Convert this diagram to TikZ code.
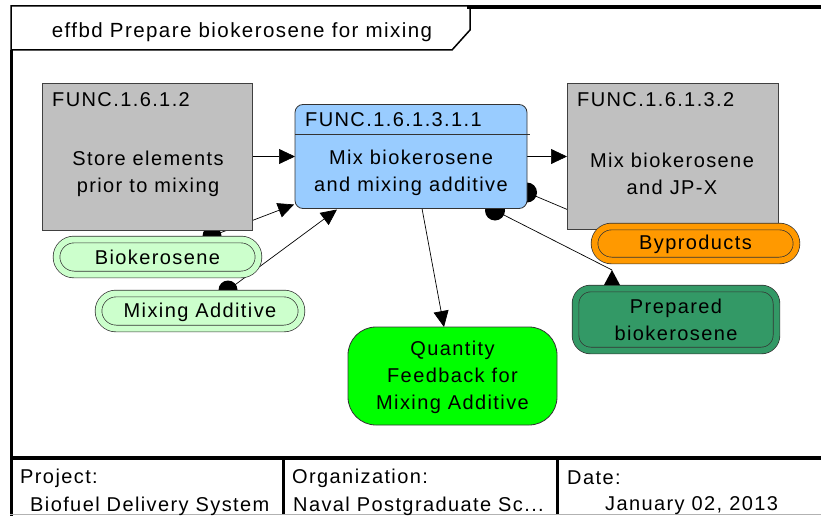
\documentclass[tikz,border=0pt]{standalone}
\usepackage{fontspec}
\setmainfont{Liberation Sans}[LetterSpace=7]
\usetikzlibrary{arrows.meta,shapes.misc,calc}
\definecolor{fgray}{HTML}{C0C0C0}
\definecolor{fblue}{HTML}{99CCFF}
\definecolor{lgreen}{HTML}{CCFFCC}
\definecolor{forange}{HTML}{FF9900}
\definecolor{dgreen}{HTML}{339966}
\definecolor{bgreen}{HTML}{00FF00}
\pgfdeclarelayer{back}
\pgfdeclarelayer{bg}
\pgfsetlayers{back,bg,main}
\tikzset{
  nodefont/.style={font=\fontsize{20}{27}\selectfont},
  funcbox/.style={draw=black!75, line width=0.8pt, fill=fgray, outer sep=0pt, inner sep=0pt},
  bluebox/.style={draw=black!80, line width=0.8pt, fill=fblue, rounded corners=8pt, outer sep=0pt, inner sep=0pt},
  pill/.style={rounded rectangle, draw=black!80, line width=0.7pt, double distance=6pt, outer sep=0pt, inner sep=0pt},
  rbox/.style={draw=black!80, line width=0.7pt, double distance=6pt, outer sep=0pt, inner sep=0pt, rounded corners=15pt},
  txt/.style={nodefont, align=center, inner sep=0pt},
  conn/.style={line width=0.7pt, -{Triangle[length=16pt,width=15pt]}},
  plainconn/.style={line width=0.7pt},
  dotr/.style={fill=black},
  tbl/.style={font=\fontsize{20}{26}\selectfont, anchor=west, inner sep=0pt},
}
\begin{document}
\begin{tikzpicture}[x=1pt,y=-1pt]
\useasboundingbox (0,0) rectangle (821,527);
\begin{pgfonlayer}{back}
\fill[white] (0,0) rectangle (821,527);
\end{pgfonlayer}

% frame and title tab
\draw[line width=1.5pt] (11,6) -- (470,6) -- (470,30) -- (452,50) -- (11,50) -- cycle;
\node[font=\fontsize{20.5}{24}\selectfont, inner sep=0pt] (title) at (242,32) {effbd Prepare biokerosene for mixing};
\draw[line width=4pt] (467,7) -- (821,7);
\draw[line width=3.5pt] (11.5,50) -- (11.5,516);
\draw[line width=4pt] (10,458) -- (821,458);
\draw[line width=3pt] (283,458) -- (283,515);
\draw[line width=3pt] (557,458) -- (557,515);
\draw[black!30, line width=1pt] (10,514.5) -- (821,514.5);

% table
\node[tbl] (proj) at (20,478) {Project:};
\node[tbl] (projv) at (30,506) {Biofuel Delivery System};
\node[tbl] (org) at (292,478) {Organization:};
\node[tbl] (orgv) at (293,506) {Naval Postgraduate Sc...};
\node[tbl] (date) at (567,478) {Date:};
\node[tbl] (datev) at (605,506) {January 02, 2013};

% function boxes
\node[funcbox, minimum width=210pt, minimum height=147pt] (store) at (147,156.5) {};
\node[txt, anchor=west] (storeid) at (52,100) {FUNC.1.6.1.2};
\node[txt] (storetxt) at (148,174) {Store elements\\prior to mixing};

\node[bluebox, minimum width=232pt, minimum height=104pt] (blue) at (411,156.5) {};
\draw[line width=0.8pt, black!80] ($(blue.north west)+(0,30)$) -- ($(blue.north east)+(3,30)$);
\node[txt, anchor=west] (blueid) at (305,120) {FUNC.1.6.1.3.1.1};
\node[txt] (bluetxt) at (411,173) {Mix biokerosene\\and mixing additive};

\node[funcbox, minimum width=211pt, minimum height=146pt] (jp) at (672.5,156.5) {};
\node[txt, anchor=west] (jpid) at (577,100) {FUNC.1.6.1.3.2};
\node[txt] (jptxt) at (672,174) {Mix biokerosene\\and JP-X};

% items
\node[pill, fill=lgreen, double=lgreen, minimum width=202pt, minimum height=35pt] (bio) at (157.5,257) {};
\node[txt] (biotxt) at (157.5,257) {Biokerosene};
\node[pill, fill=lgreen, double=lgreen, minimum width=203pt, minimum height=35pt] (add) at (200,311) {};
\node[txt] (addtxt) at (200,312) {Mixing Additive};
\node[pill, fill=forange, double=forange, minimum width=202pt, minimum height=34pt] (byp) at (695.5,243.5) {};
\node[txt] (byptxt) at (695.5,244) {Byproducts};
\node[rbox, fill=dgreen, double=dgreen, minimum width=201pt, minimum height=62pt] (prep) at (676,319.5) {};
\node[txt] (preptxt) at (676,320) {Prepared\\biokerosene};
\node[draw=black!80, line width=0.8pt, fill=bgreen, rounded corners=28pt, minimum width=209pt, minimum height=98pt, outer sep=0pt, inner sep=0pt] (qty) at (452.5,376) {};
\node[txt] (qtytxt) at (452.5,377) {Quantity\\Feedback for\\Mixing Additive};

% connectors
\begin{pgfonlayer}{bg}
\draw[conn] (store.east) -- (blue.west);
\draw[conn] (blue.east) -- (jp.west);
\coordinate (d1) at ($(bio.north)+(54.5,-3.5)$);
\fill[dotr] (d1) circle (9.5pt);
\draw[conn] (d1) -- ($(blue.south west)+(-1,-4)$);
\coordinate (d2) at ($(add.north)+(28,-3.5)$);
\fill[dotr] (d2) circle (9.5pt);
\draw[conn] (d2) -- ($(blue.south west)+(42,1)$);
\draw[conn] ($(blue.south)+(11,0)$) -- ($(qty.north)+(-8.5,0)$);
\coordinate (d3) at ($(blue.south)+(84,2)$);
\fill[dotr] (d3) circle (10pt);
\coordinate (p1) at ($(prep.north)+(-64,-18.5)$);
\draw[plainconn] (d3) -- (p1);
\coordinate (d4) at ($(blue.east)+(0,36)$);
\fill[dotr] (d4) circle (10pt);
\draw[conn] (d4) -- ($(byp.north)+(-88,0)$);
\end{pgfonlayer}
\fill (p1) -- ($(prep.north)+(-72,-3.5)$) -- ($(prep.north)+(-56,-3.5)$) -- cycle;
\end{tikzpicture}
\end{document}
